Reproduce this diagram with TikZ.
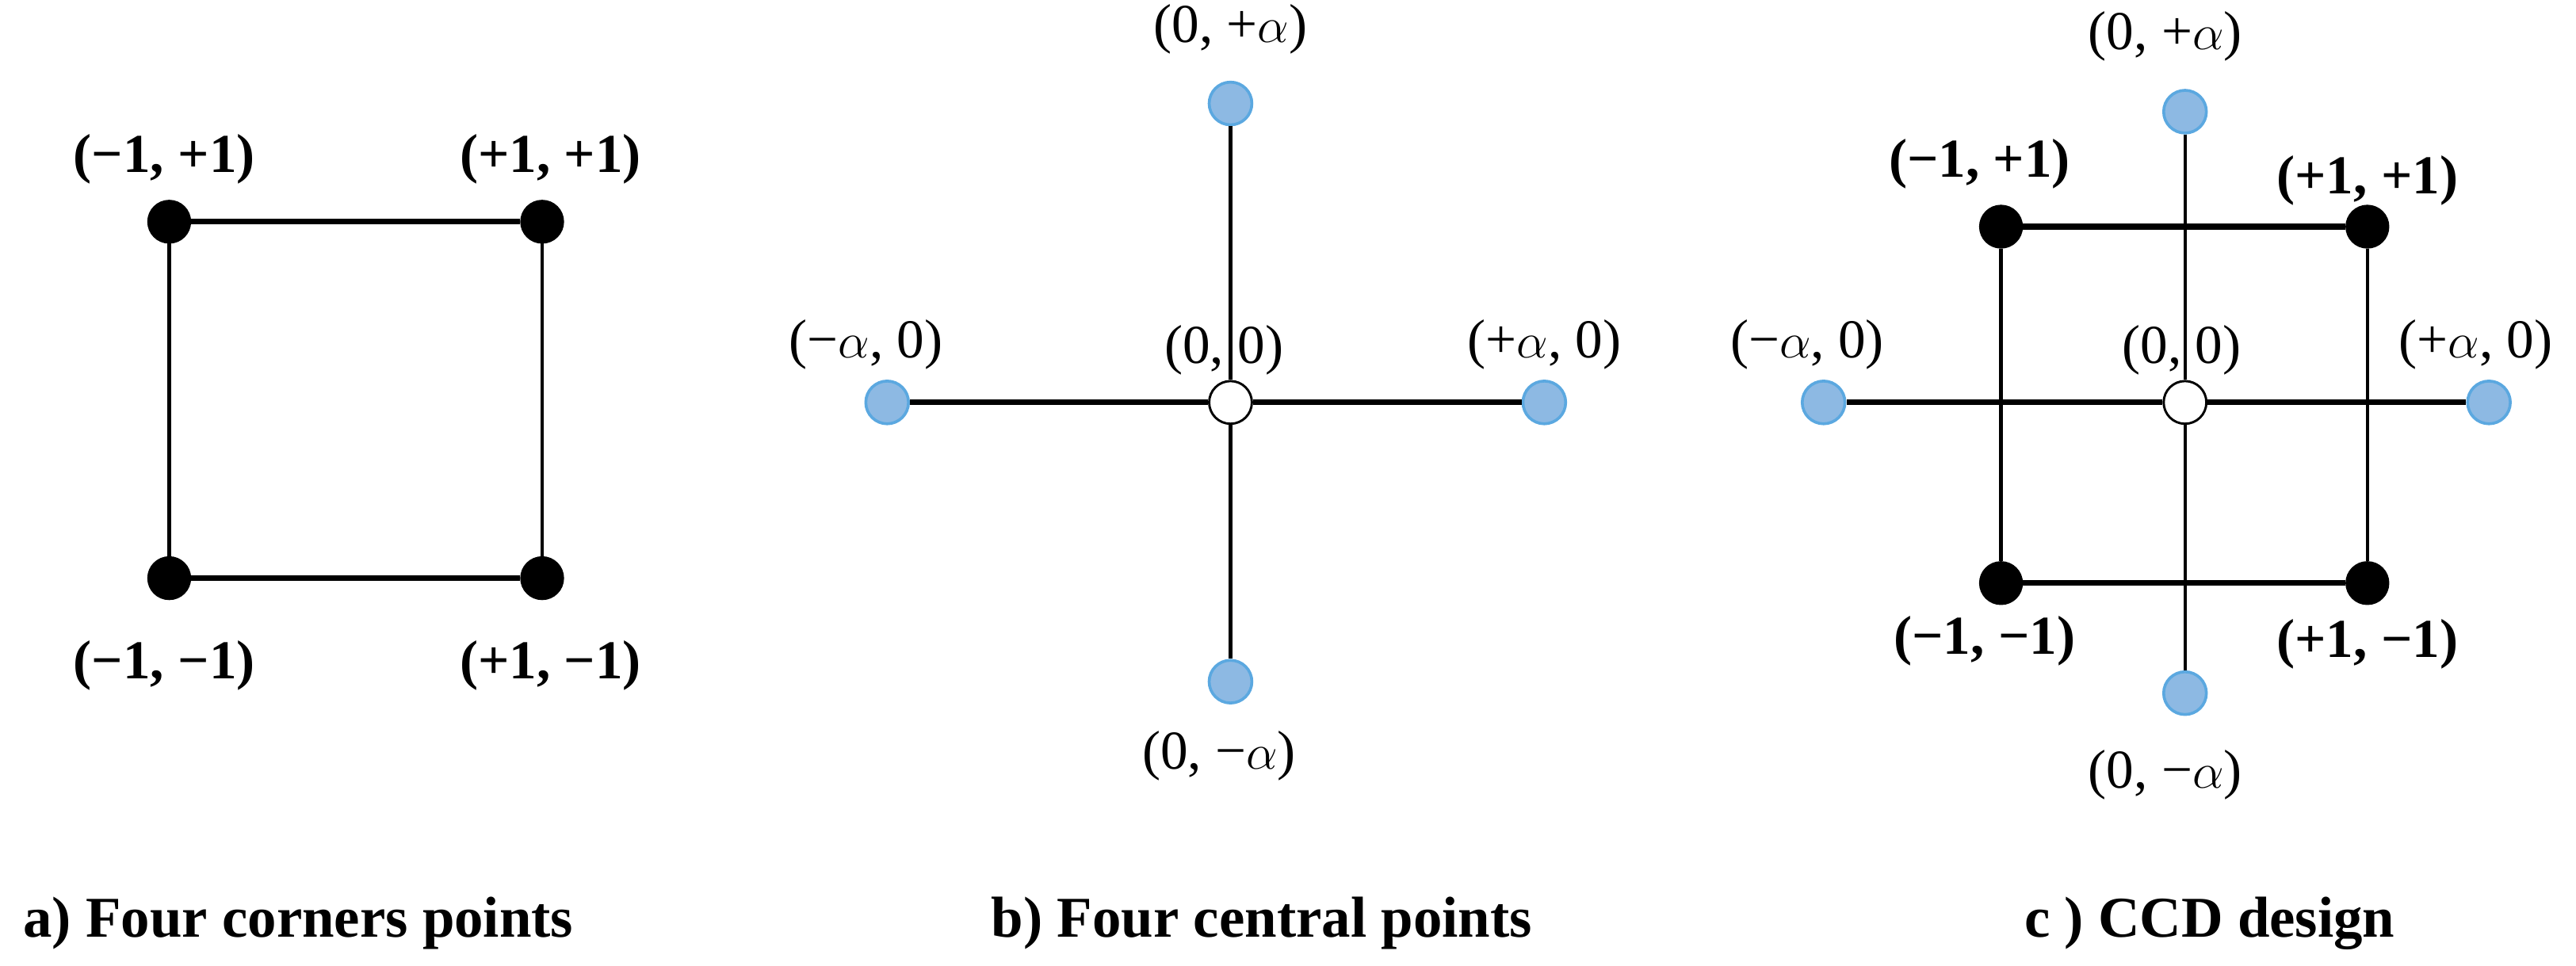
\documentclass[tikz,border=0pt]{standalone}
\usepackage{fontspec}
\setmainfont{Liberation Serif}
\begin{document}
\begin{tikzpicture}[x=0.02cm,y=-0.02cm,
  blk/.style={circle,fill=black,draw=black,minimum size=26*0.02cm,inner sep=0},
  blu/.style={circle,fill={rgb,255:red,141;green,185;blue,227},draw={rgb,255:red,91;green,168;blue,224},line width=1pt,minimum size=26*0.02cm,inner sep=0},
  wht/.style={circle,fill=white,draw=black,line width=0.8pt,minimum size=26*0.02cm,inner sep=0},
  lb/.style={font=\fontsize{19}{22}\selectfont\bfseries},
  lr/.style={font=\fontsize{19}{22}\selectfont},
  captxt/.style={font=\fontsize{20}{24}\selectfont\bfseries},
  hl/.style={line width=2pt}, vl/.style={line width=1.2pt}]
\useasboundingbox (0,0) rectangle (1568,588);
% panel a
\node[blk] (a1) at (103,135) {};
\node[blk] (a2) at (330,135) {};
\node[blk] (a3) at (103,352) {};
\node[blk] (a4) at (330,352) {};
\draw[hl] (a1)--(a2); \draw[hl] (a3)--(a4);
\draw[vl] (a1)--(a3); \draw[vl] (a2)--(a4);
\node[lb] (ta1) at (100,97) {(−1, +1)};
\node[lb] (ta2) at (335,97) {(+1, +1)};
\node[lb] (ta3) at (100,405) {(−1, −1)};
\node[lb] (ta4) at (335,405) {(+1, −1)};
% panel b
\node[wht] (b0) at (749,245) {};
\node[blu] (bt) at (749,63) {};
\node[blu] (bb) at (749,415) {};
\node[blu] (bl) at (540,245) {};
\node[blu] (br) at (940,245) {};
\draw[vl] (bt)--(b0); \draw[vl] (b0)--(bb);
\draw[hl] (bl)--(b0); \draw[hl] (b0)--(br);
\node[lr] (tb1) at (749,18) {(0, +$\alpha$)};
\node[lr] (tb2) at (527,210) {(−$\alpha$, 0)};
\node[lr] (tb3) at (745,213) {(0, 0)};
\node[lr] (tb4) at (940,210) {(+$\alpha$, 0)};
\node[lr] (tb5) at (742,460) {(0, −$\alpha$)};
% panel c
\node[wht] (c0) at (1330,245) {};
\node[blu] (ct) at (1330,68) {};
\node[blu] (cb) at (1330,422) {};
\node[blu] (cl) at (1110,245) {};
\node[blu] (cr) at (1515,245) {};
\node[blk] (c1) at (1218,138) {};
\node[blk] (c2) at (1441,138) {};
\node[blk] (c3) at (1218,355) {};
\node[blk] (c4) at (1441,355) {};
\draw[hl] (c1)--(c2); \draw[hl] (c3)--(c4);
\draw[vl] (c1)--(c3); \draw[vl] (c2)--(c4);
\draw[vl] (ct)--(c0); \draw[vl] (c0)--(cb);
\draw[hl] (cl)--(c0); \draw[hl] (c0)--(cr);
\node[lr] (tc1) at (1318,22) {(0, +$\alpha$)};
\node[lb] (tc2) at (1205,100) {(−1, +1)};
\node[lb] (tc3) at (1441,110) {(+1, +1)};
\node[lr] (tc4) at (1100,210) {(−$\alpha$, 0)};
\node[lr] (tc5) at (1328,213) {(0, 0)};
\node[lr] (tc6) at (1507,210) {(+$\alpha$, 0)};
\node[lb] (tc7) at (1208,390) {(−1, −1)};
\node[lb] (tc8) at (1441,392) {(+1, −1)};
\node[lr] (tc9) at (1318,472) {(0, −$\alpha$)};
% captions
\node[captxt,anchor=west] (ca) at (8,562) {a) Four corners points};
\node[captxt] (cbb) at (768,562) {b) Four central points};
\node[captxt] (ccc) at (1345,562) {c ) CCD design};
\end{tikzpicture}
\end{document}
